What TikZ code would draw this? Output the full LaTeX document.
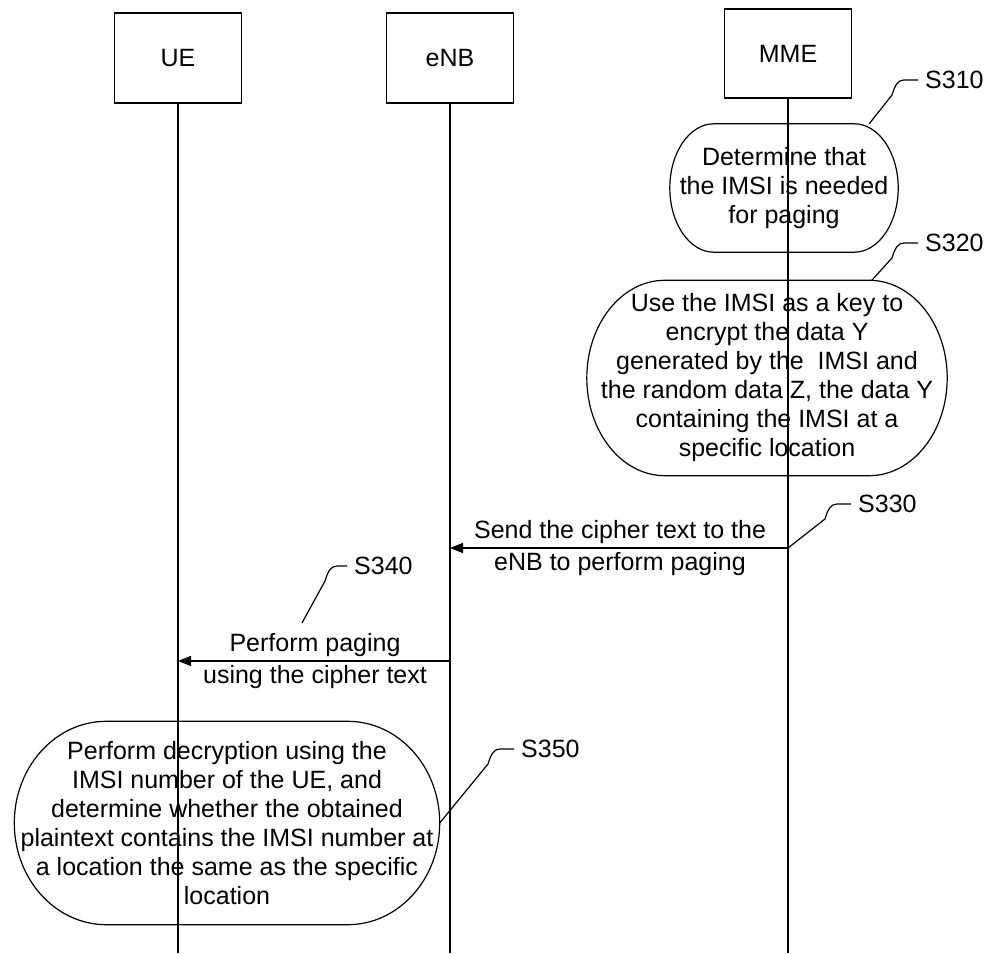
\documentclass[tikz,border=0pt]{standalone}
\usepackage{fontspec}
\setmainfont{Liberation Sans}
\usetikzlibrary{arrows.meta, positioning, calc}

% Umriss eines Schritts (Stadion mit elliptischen Enden)
\newcommand{\stepoutline}[2]{%
  \draw[line width=1.2pt] let \p1=(#1.north east), \p2=(#1.south west) in
    (\x2+#2,\y1) -- (\x1-#2,\y1)
    arc[start angle=90, end angle=-90, x radius=#2pt, y radius={(\y1-\y2)/2}]
    -- (\x2+#2,\y2)
    arc[start angle=270, end angle=90, x radius=#2pt, y radius={(\y1-\y2)/2}] -- cycle;}

\begin{document}
\begin{tikzpicture}[x=1pt, y=1pt,
    every node/.style={font=\fontsize{25}{29}\selectfont},
    entity/.style={draw, line width=1.6pt, minimum width=127pt, minimum height=90pt, inner sep=0pt},
    steptext/.style={align=center, inner sep=0pt},
    msgtext/.style={align=center, inner sep=0pt, font=\fontsize{25}{32}\selectfont},
    steplabel/.style={anchor=west, inner xsep=7pt, inner ysep=1pt},
    msg/.style={-{Triangle[length=13pt, width=10pt]}, line width=1.2pt},
    lifeline/.style={line width=1.2pt}]
  \useasboundingbox (0,0) rectangle (992,953);
  \coordinate (bottom) at (0,0);

  % Instanzen
  \node[entity] (ue)  at (178,895) {UE};
  \node[entity] (enb) at (450,895) {eNB};
  \node[entity, minimum height=89pt] (mme) at (788,899.5) {MME};

  % Lebenslinien
  \draw[lifeline] (ue.south) -- (ue.south |- bottom);
  \draw[lifeline] (enb.south) -- (enb.south |- bottom);
  \draw[lifeline] (mme.south) -- (mme.south |- bottom);

  % S310
  \node[steptext, minimum width=228pt, minimum height=128pt] (s310) at (784,765)
    {Determine that\\the IMSI is needed\\for paging};
  \stepoutline{s310}{44}
  \node[steplabel] (l310) at (918,873) {S310};
  \draw[lifeline] (l310.west) -- ++(-14,0) .. controls +(-6,0) and +(3,10) .. ++(-12,-15) -- (s310.37);

  % S320
  \node[steptext, minimum width=360pt, minimum height=195pt] (s320) at (767,575)
    {Use the IMSI as a key to\\encrypt the data Y\\generated by the\ \ IMSI and\\the random data Z, the data Y\\containing the IMSI at a\\specific location};
  \stepoutline{s320}{78}
  \node[steplabel] (l320) at (918,710) {S320};
  \draw[lifeline] (l320.west) -- ++(-14,0) .. controls +(-6,0) and +(3,10) .. ++(-12,-15) -- (s320.43);

  % S330
  \node[msgtext] (t330) at (620,405) {Send the cipher text to the\\eNB to perform paging};
  \draw[msg] (mme.south |- t330.center) -- (enb.south |- t330.center);
  \node[steplabel] (l330) at (851,449) {S330};
  \draw[lifeline] (l330.west) -- ++(-14,0) .. controls +(-6,0) and +(3,10) .. ++(-12,-15) -- (mme.south |- t330.center);

  % S340
  \node[msgtext] (t340) at (315,292) {Perform paging\\using the cipher text};
  \draw[msg] (enb.south |- t340.center) -- (ue.south |- t340.center);
  \node[steplabel] (l340) at (347,387) {S340};
  \coordinate (e340) at (302,330);
  \draw[lifeline] (l340.west) -- ++(-10,0) .. controls +(-6,0) and +(3,10) .. ++(-12,-15) -- (e340);

  % S350
  \node[steptext, minimum width=425pt, minimum height=203pt] (s350) at (227,130)
    {Perform decryption using the\\IMSI number of the UE, and\\determine whether the obtained\\plaintext contains the IMSI number at\\a location the same as the specific\\location};
  \stepoutline{s350}{92}
  \node[steplabel] (l350) at (514,204) {S350};
  \draw[lifeline] (l350.west) -- ++(-14,0) .. controls +(-6,0) and +(3,10) .. ++(-12,-15) -- (s350.east);
\end{tikzpicture}
\end{document}
